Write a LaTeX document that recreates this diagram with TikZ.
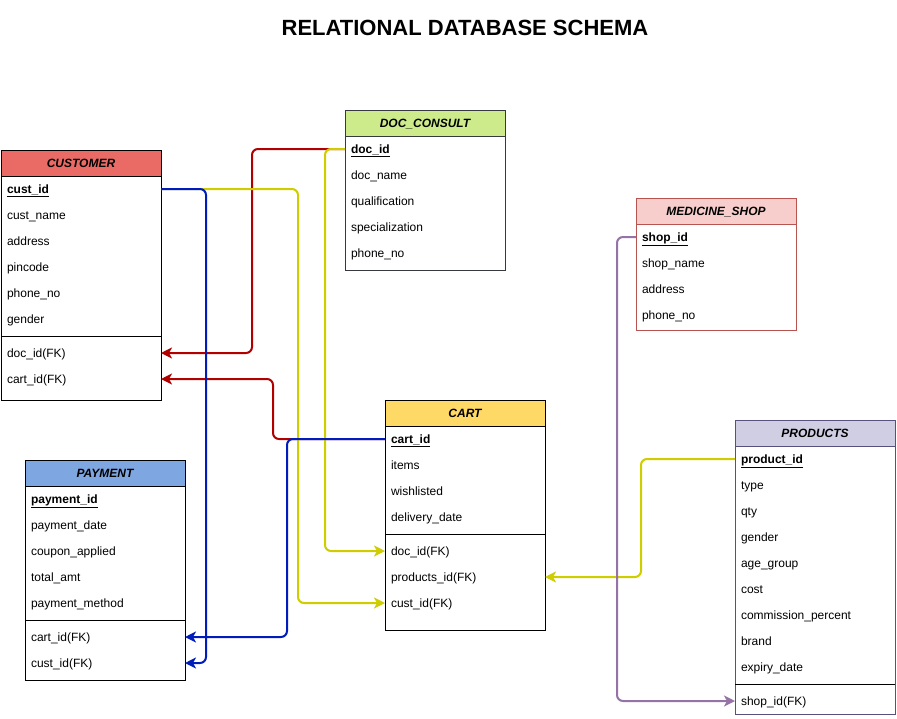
\documentclass[tikz,border=0pt]{standalone}
\usepackage{fontspec}
\setmainfont{Liberation Sans}
\usetikzlibrary{positioning,arrows.meta}
\definecolor{custfill}{HTML}{EA6B66}
\definecolor{docfill}{HTML}{CDEB8B}
\definecolor{docline}{HTML}{36393D}
\definecolor{cartfill}{HTML}{FFD966}
\definecolor{payfill}{HTML}{7EA6E0}
\definecolor{shopfill}{HTML}{F8CECC}
\definecolor{shopline}{HTML}{B85450}
\definecolor{prodfill}{HTML}{D0CEE2}
\definecolor{prodline}{HTML}{56517E}
\definecolor{fkred}{HTML}{B20000}
\definecolor{fkblue}{HTML}{001DBC}
\definecolor{fkyellow}{HTML}{CFCC00}
\definecolor{fkpurple}{HTML}{9673A6}
\begin{document}
\begin{tikzpicture}[x=1pt,y=-1pt,
    tbl/.style={draw, line width=1pt, minimum width=160pt, inner sep=0pt, outer sep=0pt, anchor=north west},
    head/.style={draw, line width=1pt, minimum width=160pt, minimum height=26pt, inner sep=0pt, outer sep=0pt,
      text height=10.5pt, text depth=1.5pt, font=\fontsize{12}{14}\selectfont\bfseries\itshape},
    field/.style={minimum height=26pt, text width=148pt, inner xsep=6pt, inner ysep=0pt, outer sep=0pt,
      text height=10.5pt, text depth=1.5pt, align=left, font=\fontsize{12}{14}\selectfont},
    fk/.style={line width=2pt, rounded corners=6pt, -{Stealth[length=11pt,width=11pt,inset=3pt]}},
    divider/.style={line width=1pt}]
                % Canvas
                \fill[white] (0,0) rectangle (897,718);
                \useasboundingbox (0,0) rectangle (897,718);

                % Title
                \node[font=\fontsize{22}{26}\selectfont\bfseries] (title) at (465,28) {RELATIONAL DATABASE SCHEMA};

                % CUSTOMER
                \node[tbl, minimum height=250pt] (cust) at (1,150) {};
                \node[head, fill=custfill, below=0pt of cust.north] (cust-h) {CUSTOMER};
                \node[field, below=0pt of cust-h] (custid) {\underline{\textbf{cust\_id}}};
                \node[field, below=0pt of custid] (custname) {cust\_name};
                \node[field, below=0pt of custname] (custaddr) {address};
                \node[field, below=0pt of custaddr] (custpin) {pincode};
                \node[field, below=0pt of custpin] (custphone) {phone\_no};
                \node[field, below=0pt of custphone] (custgender) {gender};
                \draw[divider] ([yshift=-4pt]custgender.south west) -- ([yshift=-4pt]custgender.south east);
                \node[field, below=8pt of custgender] (custdocfk) {doc\_id(FK)};
                \node[field, below=0pt of custdocfk] (custcartfk) {cart\_id(FK)};

                % DOC_CONSULT
                \node[tbl, draw=docline, minimum height=160pt] (doc) at (345,110) {};
                \node[head, draw=docline, fill=docfill, below=0pt of doc.north] (doc-h) {DOC\_CONSULT};
                \node[field, below=0pt of doc-h] (docid) {\underline{\textbf{doc\_id}}};
                \node[field, below=0pt of docid] (docname) {doc\_name};
                \node[field, below=0pt of docname] (docqual) {qualification};
                \node[field, below=0pt of docqual] (docspec) {specialization};
                \node[field, below=0pt of docspec] (docphone) {phone\_no};

                % MEDICINE_SHOP
                \node[tbl, draw=shopline, minimum height=132pt] (shop) at (636,198) {};
                \node[head, draw=shopline, fill=shopfill, below=0pt of shop.north] (shop-h) {MEDICINE\_SHOP};
                \node[field, below=0pt of shop-h] (shopid) {\underline{\textbf{shop\_id}}};
                \node[field, below=0pt of shopid] (shopname) {shop\_name};
                \node[field, below=0pt of shopname] (shopaddr) {address};
                \node[field, below=0pt of shopaddr] (shopphone) {phone\_no};

                % CART
                \node[tbl, minimum height=230pt] (cart) at (385,400) {};
                \node[head, fill=cartfill, below=0pt of cart.north] (cart-h) {CART};
                \node[field, below=0pt of cart-h] (cartid) {\underline{\textbf{cart\_id}}};
                \node[field, below=0pt of cartid] (cartitems) {items};
                \node[field, below=0pt of cartitems] (cartwish) {wishlisted};
                \node[field, below=0pt of cartwish] (cartdate) {delivery\_date};
                \draw[divider] ([yshift=-4pt]cartdate.south west) -- ([yshift=-4pt]cartdate.south east);
                \node[field, below=8pt of cartdate] (cartdocfk) {doc\_id(FK)};
                \node[field, below=0pt of cartdocfk] (cartprodfk) {products\_id(FK)};
                \node[field, below=0pt of cartprodfk] (cartcustfk) {cust\_id(FK)};

                % PAYMENT
                \node[tbl, minimum height=220pt] (pay) at (25,460) {};
                \node[head, fill=payfill, below=0pt of pay.north] (pay-h) {PAYMENT};
                \node[field, below=0pt of pay-h] (payid) {\underline{\textbf{payment\_id}}};
                \node[field, below=0pt of payid] (paydate) {payment\_date};
                \node[field, below=0pt of paydate] (paycoupon) {coupon\_applied};
                \node[field, below=0pt of paycoupon] (paytotal) {total\_amt};
                \node[field, below=0pt of paytotal] (paymethod) {payment\_method};
                \draw[divider] ([yshift=-4pt]paymethod.south west) -- ([yshift=-4pt]paymethod.south east);
                \node[field, below=8pt of paymethod] (paycartfk) {cart\_id(FK)};
                \node[field, below=0pt of paycartfk] (paycustfk) {cust\_id(FK)};

                % PRODUCTS
                \node[tbl, draw=prodline, minimum height=294pt] (prod) at (735,420) {};
                \node[head, draw=prodline, fill=prodfill, below=0pt of prod.north] (prod-h) {PRODUCTS};
                \node[field, below=0pt of prod-h] (prodid) {\underline{\textbf{product\_id}}};
                \node[field, below=0pt of prodid] (prodtype) {type};
                \node[field, below=0pt of prodtype] (prodqty) {qty};
                \node[field, below=0pt of prodqty] (prodgender) {gender};
                \node[field, below=0pt of prodgender] (prodage) {age\_group};
                \node[field, below=0pt of prodage] (prodcost) {cost};
                \node[field, below=0pt of prodcost] (prodcomm) {commission\_percent};
                \node[field, below=0pt of prodcomm] (prodbrand) {brand};
                \node[field, below=0pt of prodbrand] (prodexpiry) {expiry\_date};
                \draw[divider] ([yshift=-4pt]prodexpiry.south west) -- ([yshift=-4pt]prodexpiry.south east);
                \node[field, below=8pt of prodexpiry] (prodshopfk) {shop\_id(FK)};

                % Red links into CUSTOMER
                \draw[fk, fkred] (docid.west) -- ++(-93,0) |- (custdocfk.east);
                \draw[fk, fkred] (cartid.west) -- ++(-112,0) |- (custcartfk.east);

                % Yellow links into CART
                \draw[fk, fkyellow] (docid.west) -- ++(-20,0) |- (cartdocfk.west);
                \draw[fk, fkyellow] (custid.east) -- ++(137,0) |- (cartcustfk.west);
                \draw[fk, fkyellow] (prodid.west) -- ++(-94,0) |- (cartprodfk.east);

                % Blue links into PAYMENT
                \draw[fk, fkblue] (custid.east) -- ++(45,0) |- (paycustfk.east);
                \draw[fk, fkblue] (cartid.west) -- ++(-98,0) |- (paycartfk.east);

                % Purple link into PRODUCTS
                \draw[fk, fkpurple] (shopid.west) -- ++(-19,0) |- (prodshopfk.west);
            \end{tikzpicture}
\end{document}
